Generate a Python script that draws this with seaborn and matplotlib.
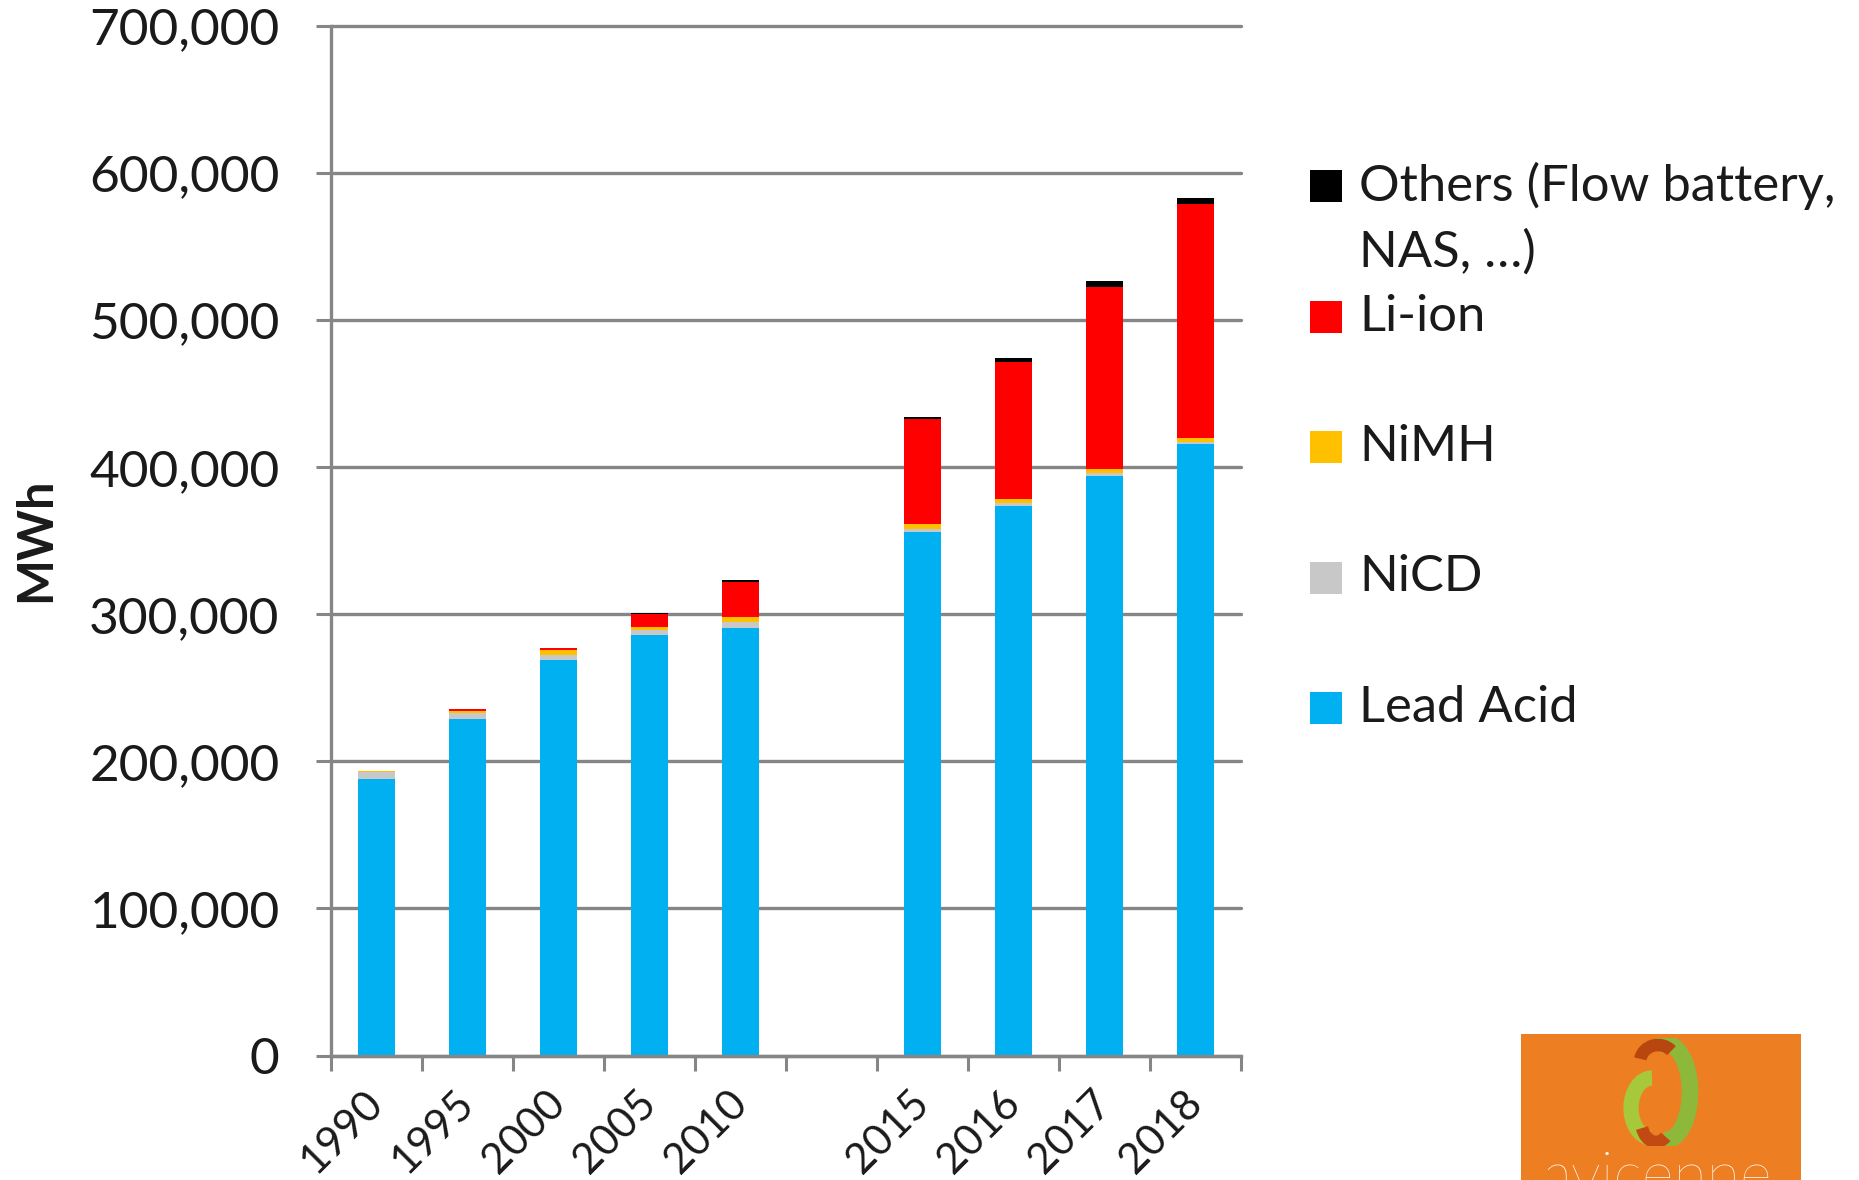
import numpy as np
import pandas as pd
import matplotlib
matplotlib.use("Agg")
import matplotlib.pyplot as plt
import seaborn as sns
from matplotlib.patches import Rectangle, Arc
from matplotlib.ticker import FuncFormatter

# ---------------- data ----------------
years = ["1990", "1995", "2000", "2005", "2010", " ", "2015", "2016", "2017", "2018"]
lead_acid = [188000, 229000, 269000, 286000, 290500, 0, 356000, 373500, 394000, 415500]
nicd = [4500, 4000, 3500, 3500, 4500, 0, 2300, 2500, 2000, 1800]
nimh = [700, 1500, 3000, 2000, 3000, 0, 3000, 2500, 2500, 2700]
li_ion = [300, 800, 1500, 9000, 24000, 0, 71600, 93000, 124000, 159300]
others = [0, 200, 300, 300, 1000, 0, 1500, 3000, 4000, 4000]

series_names = ["Lead Acid", "NiCD", "NiMH", "Li-ion", "Others (Flow battery,\nNAS, …)"]
series_vals = [lead_acid, nicd, nimh, li_ion, others]
series_colors = ["#00B0F0", "#C8C8C8", "#FFC000", "#FF0000", "#000000"]

# ---------------- style ----------------
sns.set_theme(style="white")
plt.rcParams["font.family"] = ["Lato", "DejaVu Sans"]
GREY = "#868686"
TXT = "#1a1a1a"

W, H = 1859, 1180
fig = plt.figure(figsize=(W / 100, H / 100), dpi=100)
fig.patch.set_facecolor("white")

def fx(px):
    return px / W

def fy(py):
    return 1 - py / H

ax_l, ax_r, ax_t, ax_b = 331, 1241, 26, 1055.5
ax = fig.add_axes([fx(ax_l), fy(ax_b), fx(ax_r) - fx(ax_l), fy(ax_t) - fy(ax_b)])
ax.set_facecolor("white")

# stacked bars: draw cumulative totals from top down
cum = np.cumsum(np.array(series_vals, dtype=float), axis=0)
df = pd.DataFrame({"year": years})
for i in range(len(series_vals) - 1, -1, -1):
    df["v"] = cum[i]
    sns.barplot(data=df, x="year", y="v", order=years, color=series_colors[i],
                saturation=1, width=0.4, linewidth=0, errorbar=None, ax=ax, zorder=3)

ax.set_xlim(-0.5, len(years) - 0.5)
ax.set_ylim(0, 700000)
ax.set_yticks(np.arange(0, 700001, 100000))
ax.yaxis.set_major_formatter(FuncFormatter(lambda v, p: f"{int(v):,}"))
ax.yaxis.grid(True, color=GREY, linewidth=2.4, zorder=1)
ax.set_axisbelow(True)
for gl in ax.get_ygridlines():
    gl.set_clip_on(False)
ax.xaxis.grid(False)

for s in ["top", "right"]:
    ax.spines[s].set_visible(False)
for s in ["left", "bottom"]:
    ax.spines[s].set_color(GREY)
    ax.spines[s].set_linewidth(2.4)
    ax.spines[s].set_zorder(4)

ax.set_xlabel("")
ax.set_ylabel("")
ax.tick_params(axis="y", which="major", length=11, width=2.2, color=GREY,
               labelsize=37, labelcolor=TXT, pad=26, left=True)

# x: labels at category centres, tick marks between categories
ax.set_xticks(range(len(years)))
ax.set_xticklabels(years)
ax.set_xticks(np.arange(-0.5, len(years), 1.0), minor=True)
ax.tick_params(axis="x", which="major", length=0, labelsize=30.5, labelcolor=TXT, pad=30)
ax.tick_params(axis="x", which="minor", length=11, width=2.2, color=GREY, bottom=True)
for lab in ax.get_xticklabels():
    lab.set_rotation(45)
    lab.set_ha("right")
    lab.set_va("center")
    lab.set_rotation_mode("anchor")

# y label
fig.text(fx(36), fy(455 * H / 995), "MWh", rotation=90, fontsize=35, fontweight="bold",
         ha="center", va="center", color=TXT)

# legend (manual, Excel-like)
leg_order = [4, 3, 2, 1, 0]
leg_y = [186, 316.6, 447, 577.5, 708]
msz = 32
LFS = 36.5
for k, i in enumerate(leg_order):
    yc = leg_y[k]
    fig.add_artist(Rectangle((fx(1310), fy(yc + msz / 2)), fx(msz), msz / H,
                             transform=fig.transFigure, facecolor=series_colors[i],
                             edgecolor="none"))
    name = series_names[i]
    if "\n" in name:
        l1, l2 = name.split("\n")
        fig.text(fx(1359), fy(yc), l1, fontsize=LFS, va="center", ha="left", color=TXT)
        fig.text(fx(1359), fy(yc + 66.6), l2, fontsize=LFS, va="center", ha="left", color=TXT)
    else:
        fig.text(fx(1359), fy(yc), name, fontsize=LFS, va="center", ha="left", color=TXT)

# logo box (bottom right)
fig.add_artist(Rectangle((fx(1521), 0), fx(1801) - fx(1521), fy(1034),
                         transform=fig.transFigure, facecolor="#EE7E22", edgecolor="none",
                         zorder=1))
lax = fig.add_axes([fx(1612), fy(1146), fx(95), 108 / H])
lax.set_zorder(5)
lax.patch.set_visible(False)
lax.set_xlim(0, 95)
lax.set_ylim(0, 108)
lax.axis("off")
lax.add_patch(Arc((54, 54), 48, 96, theta1=-95, theta2=100, lw=12, color="#8DB83A"))
lax.add_patch(Arc((40, 38), 42, 60, theta1=90, theta2=265, lw=11, color="#A8C83C"))
lax.add_patch(Arc((46, 84), 36, 34, theta1=40, theta2=170, lw=9, color="#B8470F"))
lax.add_patch(Arc((44, 26), 30, 44, theta1=210, theta2=300, lw=9, color="#C24A12"))
fig.text(fx(1658), fy(1195), "avicenne", fontsize=44, color="white", ha="center",
         va="baseline", fontweight="light", zorder=6)

fig.savefig("out.png", dpi=100)
